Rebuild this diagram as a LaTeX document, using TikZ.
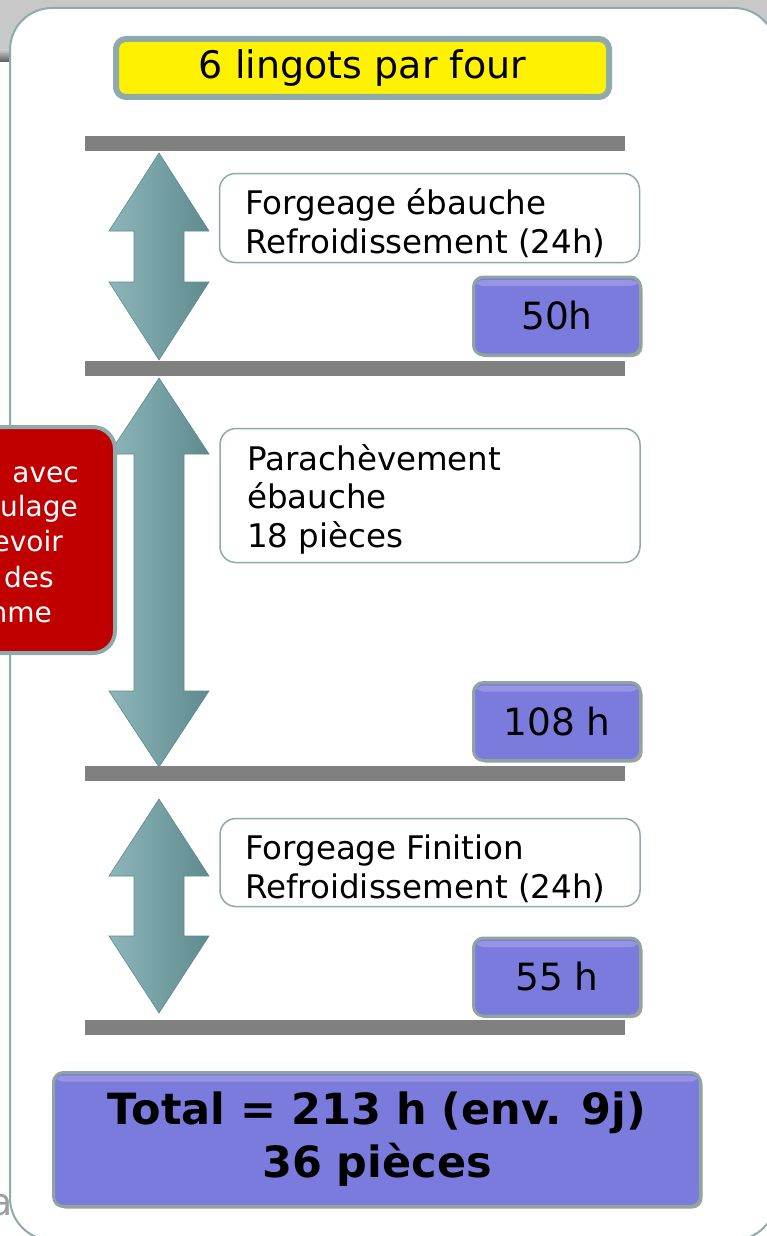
\documentclass[tikz,border=0pt]{standalone}
\usepackage{fontspec}
\setmainfont{DejaVu Sans}
\usetikzlibrary{shadows}

\definecolor{panelline}{HTML}{8FAAAD}
\definecolor{topgray}{HTML}{C8C8C8}
\definecolor{barcol}{HTML}{808080}
\definecolor{boxblue}{HTML}{7B7BDE}
\definecolor{boxline}{HTML}{8FA59E}
\definecolor{arrowlight}{HTML}{B4E2E5}
\definecolor{arrowleft}{HTML}{8CB6BA}
\definecolor{arrowright}{HTML}{5F8A8E}
\definecolor{noterouge}{HTML}{C00000}

\tikzset{
  titlebox/.style={draw=panelline,line width=6pt,fill=yellow,rounded corners=10pt,minimum width=493pt,minimum height=58pt,inner sep=0pt,font=\fontsize{38}{44}\selectfont},
  textbox/.style={draw=panelline,line width=1.5pt,fill=white,rounded corners=16pt,minimum width=420pt,inner sep=0pt},
  boxtext/.style={anchor=base west,inner sep=0pt,align=left,font=\fontsize{32.5}{38.5}\selectfont},
  timebox/.style={draw=boxline,line width=3pt,fill=boxblue,rounded corners=10pt,minimum width=167pt,minimum height=78pt,inner sep=0pt,
    drop shadow={shadow xshift=2pt,shadow yshift=-2pt,fill=black,opacity=.35},
    path picture={\fill[white,opacity=.2] ([yshift=-3pt]path picture bounding box.north west) rectangle ([yshift=-9pt]path picture bounding box.north east);},
    font=\fontsize{37.5}{44}\selectfont},
  sepbar/.style={fill=barcol},
  dblarrow/.style={left color=arrowleft,middle color=arrowlight,right color=arrowright,draw=arrowright,line width=.6pt},
  notebox/.style={draw=panelline,line width=4pt,fill=noterouge,rounded corners=22pt,minimum width=310pt,minimum height=226pt},
  notetext/.style={anchor=base east,inner sep=0pt,text=white,font=\fontsize{28}{35}\selectfont},
}

\begin{document}
\begin{tikzpicture}[x=1pt,y=-1pt]
    \useasboundingbox (0,0) rectangle (767,1236);

    % fond
    \fill[topgray] (0,0) rectangle (767,50);
    \shade[top color=topgray,bottom color=topgray!45!black] (0,50) rectangle (12,62);
    \draw[draw=panelline,line width=2pt,fill=white,rounded corners=42pt] (10,8) rectangle (776,1240);

    \node[titlebox] (A) at (362.5,68) {6 lingots par four};

    % barres
    \fill[sepbar] (85,136) rectangle (625,151);
    \fill[sepbar] (85,361) rectangle (625,376);
    \fill[sepbar] (85,766) rectangle (625,781);
    \fill[sepbar] (85,1020) rectangle (625,1035);

    % doubles fleches
    \shadedraw[dblarrow] (159,153) -- (209,231) -- (184,231) -- (184,282) -- (209,282) -- (159,360) -- (109,282) -- (134,282) -- (134,231) -- (109,231) -- cycle;
    \shadedraw[dblarrow] (159,378) -- (209,454) -- (184,454) -- (184,691) -- (209,691) -- (159,767) -- (109,691) -- (134,691) -- (134,454) -- (109,454) -- cycle;
    \shadedraw[dblarrow] (159,799) -- (209,876) -- (184,876) -- (184,936) -- (209,936) -- (159,1013) -- (109,936) -- (134,936) -- (134,876) -- (109,876) -- cycle;

    % etapes
    \node[textbox,minimum height=89pt] (B) at (429.5,218) {};
    \node[boxtext] (B1) at (245,253) {Forgeage ébauche\\Refroidissement (24h)};
    \node[timebox] (C) at (557,316) {50h};

    \node[textbox,minimum height=134pt] (D) at (430,495.5) {};
    \node[boxtext] (D1) at (247,547) {Parachèvement\\ébauche\\18 pièces};
    \node[timebox] (E) at (557,721.5) {108 h};

    \node[textbox,minimum height=88pt] (F) at (430,862.5) {};
    \node[boxtext] (F1) at (245,898) {Forgeage Finition\\Refroidissement (24h)};
    \node[timebox] (G) at (557,977) {55 h};

    \node[timebox,minimum width=647pt,minimum height=134pt,align=center,font=\fontsize{43}{53}\selectfont\bfseries] (H) at (377,1139.5) {Total = 213 h (env. 9j)\\36 pièces};

    % note rouge
    \node[notebox] (N) at (-40,540) {};
    \foreach \txt/\xx/\yy [count=\i] in {avec/79/482,ulage/78/516,evoir/63/551,des/54/587,mme/52/622}
        \node[notetext] (R\i) at (\xx,\yy) {\txt};

    \node[anchor=base east,inner sep=0pt,text=black!38,font=\fontsize{38}{44}\selectfont] (Z) at (13,1215) {a};

\end{tikzpicture}
\end{document}
